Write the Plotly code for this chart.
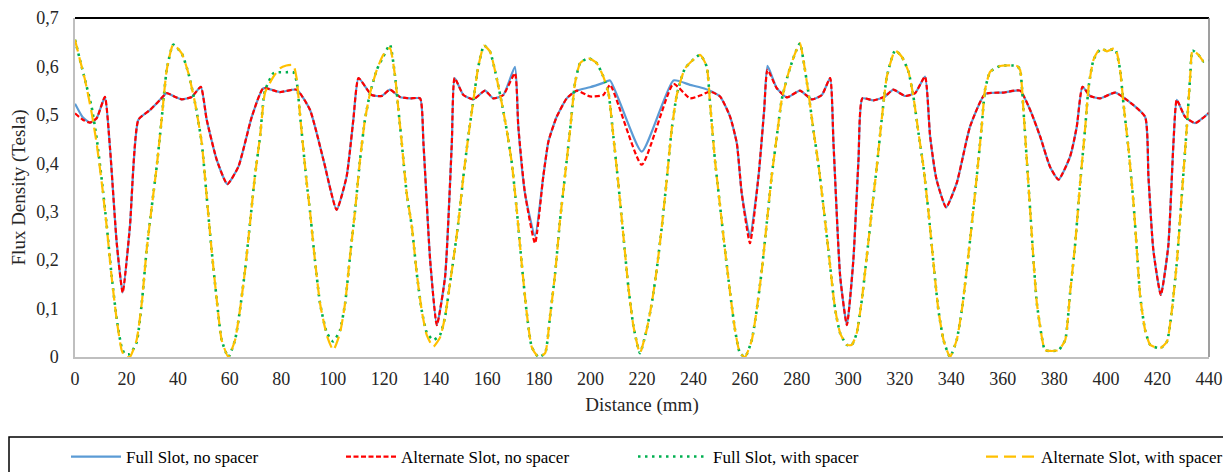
import plotly.graph_objects as go

# ---------------- data ----------------
NS_X = [0, 3, 5.8, 8.4, 11.6, 13.6, 16.2, 18.5, 21.3, 24.6,
        29.1, 33, 35.6, 38.5, 41.4, 45.3, 48.8, 51.1, 55, 59.1,
        63.4, 68.6, 73.1, 79.5, 86, 91.2, 96.4, 101.5, 105.4, 108,
        110, 115.1, 119, 122.2, 126.1, 130, 133.9, 135.2, 137.8, 140.4,
        143.6, 146.2, 147.3, 150.7, 154.6, 159.1, 162.3, 166.2, 170.7, 172,
        174.6, 178.5, 181.7, 183.7, 186.9, 190.8, 194.7, 199.8, 205, 207.6,
        219.9, 232.2, 238.6, 243.1, 246.4, 250.3, 254.2, 256.8, 258.7, 261.9,
        265.2, 267.4, 268.7, 272.3, 276.2, 281.3, 285.9, 289.8, 293, 294.3,
        296.9, 299.5, 302, 304, 305.5, 309.8, 314.3, 317.5, 322.1, 326,
        329.8, 331.8, 334.3, 338, 342.1, 347.3, 353.1, 360.2, 366.7, 370.6,
        374.5, 378.3, 381.6, 386.1, 388.7, 390.9, 393.9, 397.7, 403.6, 408.1,
        415.2, 416.5, 418.4, 421.3, 424.2, 426.2, 427.5, 430.7, 434.6, 440]

FULL_NO_SPACER = [0.523, 0.495, 0.484, 0.493, 0.537, 0.43, 0.235, 0.133, 0.269, 0.490,
                  0.510, 0.531, 0.545, 0.538, 0.532, 0.537, 0.558, 0.49, 0.407, 0.357,
                  0.393, 0.496, 0.555, 0.547, 0.552, 0.51, 0.407, 0.304, 0.373, 0.49,
                  0.576, 0.541, 0.539, 0.552, 0.537, 0.534, 0.534, 0.441, 0.2, 0.066,
                  0.166, 0.441, 0.576, 0.541, 0.532, 0.55, 0.534, 0.541, 0.599, 0.476,
                  0.338, 0.25, 0.373, 0.445, 0.496, 0.534, 0.55, 0.557, 0.566, 0.571,
                  0.424, 0.571, 0.562, 0.556, 0.55, 0.538, 0.496, 0.441, 0.338, 0.249,
                  0.373, 0.51, 0.601, 0.555, 0.536, 0.55, 0.532, 0.541, 0.576, 0.441,
                  0.166, 0.066, 0.2, 0.407, 0.534, 0.53, 0.538, 0.552, 0.539, 0.545,
                  0.579, 0.455, 0.366, 0.309, 0.359, 0.476, 0.543, 0.546, 0.55, 0.51,
                  0.455, 0.393, 0.366, 0.414, 0.476, 0.558, 0.539, 0.534, 0.546, 0.531,
                  0.496, 0.373, 0.221, 0.128, 0.229, 0.441, 0.531, 0.496, 0.483, 0.504]

ALT_NO_SPACER = [0.503, 0.49, 0.484, 0.493, 0.537, 0.43, 0.235, 0.133, 0.269, 0.490,
                 0.510, 0.531, 0.545, 0.538, 0.532, 0.537, 0.558, 0.49, 0.407, 0.357,
                 0.393, 0.496, 0.555, 0.547, 0.552, 0.51, 0.407, 0.304, 0.373, 0.49,
                 0.576, 0.541, 0.539, 0.552, 0.537, 0.534, 0.534, 0.441, 0.2, 0.066,
                 0.166, 0.441, 0.576, 0.541, 0.532, 0.55, 0.534, 0.541, 0.586, 0.476,
                 0.338, 0.235, 0.373, 0.445, 0.496, 0.534, 0.55, 0.538, 0.541, 0.562,
                 0.397, 0.564, 0.534, 0.541, 0.548, 0.538, 0.496, 0.441, 0.338, 0.235,
                 0.373, 0.51, 0.593, 0.555, 0.536, 0.55, 0.532, 0.541, 0.576, 0.441,
                 0.166, 0.066, 0.2, 0.407, 0.534, 0.53, 0.538, 0.552, 0.539, 0.545,
                 0.579, 0.455, 0.366, 0.309, 0.359, 0.476, 0.543, 0.546, 0.55, 0.51,
                 0.455, 0.393, 0.366, 0.414, 0.476, 0.558, 0.539, 0.534, 0.546, 0.531,
                 0.496, 0.373, 0.221, 0.128, 0.229, 0.441, 0.531, 0.496, 0.483, 0.504]

SP_X = [0, 1.9, 3.9, 6.5, 8.4, 10.4, 12.3, 14.2, 16.2, 18.1,
        19.4, 21.3, 23.9, 25.9, 27.8, 29.8, 31.7, 33.6, 35.6, 38.1,
        41.4, 44, 46.6, 49.2, 51.1, 53, 55, 56.9, 59.5, 62.1,
        64, 66, 67.9, 69.8, 71.8, 73.7, 77, 79.5, 82, 84.7,
        86, 87.3, 89.9, 91.2, 93.1, 95.1, 97.7, 100.2, 102.8, 104.8,
        106.7, 108.7, 110.6, 112.5, 114.5, 117.1, 119.6, 122.2, 124.2, 125.5,
        126.8, 128.7, 130.7, 132.6, 134.5, 136.5, 139, 141.6, 143.6, 145.5,
        146.8, 148.7, 150.7, 152.6, 154.6, 156.5, 158.7, 161, 163.6, 165.6,
        167.5, 169.5, 171.4, 173.3, 175.3, 177.2, 179.8, 182.4, 184.3, 186.3,
        188.2, 190.1, 192.1, 194, 196, 199.2, 202.4, 205, 207, 208.9,
        210.8, 212.8, 214.7, 216.7, 219.2, 221.8, 223.8, 225.7, 227.7, 229.6,
        231.5, 233.5, 236.7, 242.5, 245.1, 246.4, 248.3, 250.3, 252.2, 254.2,
        256.1, 258, 260, 262.6, 264.5, 266.5, 268.4, 270.3, 272.3, 274.2,
        276.8, 279.4, 281.3, 282.6, 284.6, 286.5, 288.4, 290.4, 292.3, 294.9,
        296.9, 299.5, 301.4, 303.3, 305.3, 307.2, 309.2, 311.1, 313, 315,
        318.2, 320.8, 323.4, 325.3, 327.3, 329.2, 331.2, 333.1, 335, 337,
        339.5, 342.1, 344.1, 346, 348, 349.9, 351.8, 353.1, 355.1, 359,
        365.5, 366.7, 368, 369.3, 370.6, 371.9, 373.2, 375.1, 376.4, 381.6,
        384.2, 386.1, 388.1, 390, 392, 393.3, 395.2, 397.8, 400.4, 403.6,
        405.5, 406.8, 408.8, 410.7, 412, 413.3, 415.2, 417.2, 421.1, 423.7,
        425.6, 427.6, 429.5, 431.4, 432.7, 433.6, 435.9, 437.9, 440]

FULL_WITH_SPACER = [0.655, 0.614, 0.572, 0.515, 0.452, 0.365, 0.272, 0.168, 0.078, 0.02,
                    0.006, 0.006, 0.03, 0.111, 0.221, 0.311, 0.393, 0.490, 0.593, 0.645,
                    0.627, 0.586, 0.524, 0.441, 0.331, 0.221, 0.118, 0.035, 0.0, 0.035,
                    0.097, 0.18, 0.276, 0.373, 0.455, 0.55, 0.586, 0.588, 0.588, 0.588,
                    0.569, 0.5, 0.36, 0.3, 0.2, 0.11, 0.05, 0.032, 0.055, 0.111,
                    0.207, 0.304, 0.407, 0.49, 0.545, 0.593, 0.62, 0.645, 0.579, 0.51,
                    0.441, 0.338, 0.269, 0.173, 0.097, 0.05, 0.035, 0.045, 0.083, 0.152,
                    0.2, 0.276, 0.373, 0.455, 0.531, 0.6, 0.643, 0.631, 0.576, 0.524,
                    0.469, 0.4, 0.304, 0.194, 0.09, 0.021, 0.0, 0.008, 0.083, 0.173,
                    0.283, 0.373, 0.469, 0.565, 0.607, 0.617, 0.607, 0.579, 0.545, 0.455,
                    0.359, 0.249, 0.145, 0.063, 0.008, 0.056, 0.111, 0.18, 0.269, 0.366,
                    0.469, 0.541, 0.596, 0.624, 0.6, 0.524, 0.407, 0.311, 0.221, 0.132,
                    0.056, 0.008, 0.0, 0.035, 0.097, 0.18, 0.276, 0.373, 0.455, 0.531,
                    0.586, 0.627, 0.648, 0.614, 0.545, 0.469, 0.4, 0.311, 0.221, 0.1,
                    0.049, 0.025, 0.025, 0.049, 0.118, 0.207, 0.304, 0.393, 0.49, 0.579,
                    0.633, 0.62, 0.589, 0.538, 0.462, 0.393, 0.297, 0.194, 0.097, 0.035,
                    0.0, 0.035, 0.097, 0.18, 0.276, 0.373, 0.476, 0.552, 0.589, 0.601,
                    0.601, 0.593, 0.51, 0.407, 0.304, 0.2, 0.111, 0.042, 0.014, 0.014,
                    0.035, 0.132, 0.235, 0.359, 0.476, 0.558, 0.614, 0.635, 0.633, 0.635,
                    0.593, 0.524, 0.428, 0.318, 0.221, 0.125, 0.056, 0.025, 0.018, 0.032,
                    0.097, 0.2, 0.338, 0.476, 0.579, 0.633, 0.624, 0.61, 0.612]

ALT_WITH_SPACER = [0.655, 0.614, 0.572, 0.503, 0.441, 0.359, 0.269, 0.166, 0.076, 0.014,
                   0.0, 0.0, 0.035, 0.111, 0.221, 0.311, 0.393, 0.490, 0.593, 0.645,
                   0.627, 0.586, 0.524, 0.441, 0.331, 0.221, 0.118, 0.035, 0.0, 0.035,
                   0.097, 0.18, 0.276, 0.373, 0.455, 0.545, 0.579, 0.596, 0.602, 0.603,
                   0.575, 0.5, 0.36, 0.3, 0.2, 0.11, 0.045, 0.014, 0.049, 0.111,
                   0.207, 0.304, 0.407, 0.49, 0.545, 0.593, 0.624, 0.638, 0.579, 0.51,
                   0.441, 0.338, 0.269, 0.173, 0.097, 0.045, 0.021, 0.04, 0.083, 0.152,
                   0.2, 0.276, 0.373, 0.455, 0.531, 0.6, 0.643, 0.631, 0.576, 0.524,
                   0.469, 0.4, 0.304, 0.194, 0.09, 0.021, 0.0, 0.008, 0.083, 0.173,
                   0.283, 0.373, 0.469, 0.565, 0.607, 0.617, 0.607, 0.579, 0.545, 0.455,
                   0.359, 0.249, 0.145, 0.063, 0.008, 0.056, 0.111, 0.18, 0.269, 0.366,
                   0.469, 0.541, 0.596, 0.624, 0.6, 0.524, 0.407, 0.311, 0.221, 0.132,
                   0.056, 0.008, 0.0, 0.035, 0.097, 0.18, 0.276, 0.373, 0.455, 0.531,
                   0.586, 0.627, 0.648, 0.614, 0.545, 0.469, 0.4, 0.311, 0.221, 0.1,
                   0.049, 0.025, 0.025, 0.049, 0.118, 0.207, 0.304, 0.393, 0.49, 0.579,
                   0.633, 0.62, 0.589, 0.538, 0.462, 0.393, 0.297, 0.194, 0.097, 0.035,
                   0.0, 0.035, 0.097, 0.18, 0.276, 0.373, 0.476, 0.552, 0.589, 0.601,
                   0.601, 0.593, 0.51, 0.407, 0.304, 0.2, 0.111, 0.042, 0.014, 0.014,
                   0.035, 0.132, 0.235, 0.359, 0.476, 0.558, 0.614, 0.638, 0.631, 0.638,
                   0.593, 0.524, 0.428, 0.318, 0.221, 0.125, 0.056, 0.025, 0.018, 0.032,
                   0.097, 0.2, 0.338, 0.476, 0.579, 0.633, 0.624, 0.61, 0.612]

SERIES_NAMES = ["Full Slot, no spacer", "Alternate Slot, no spacer",
                "Full Slot, with spacer", "Alternate Slot, with spacer"]
X_TICKS = list(range(0, 441, 20))
Y_TICKS = [0, 0.1, 0.2, 0.3, 0.4, 0.5, 0.6, 0.7]
Y_TICK_LABELS = ["0", "0,1", "0,2", "0,3", "0,4", "0,5", "0,6", "0,7"]

assert len(NS_X) == len(FULL_NO_SPACER) == len(ALT_NO_SPACER)
assert len(SP_X) == len(FULL_WITH_SPACER) == len(ALT_WITH_SPACER)

# ---------------- styling ----------------
FONT = "Liberation Serif"
# the page body adds an 8px offset; size the figure so that it fills the window
OFF = 8
WIN_W, WIN_H = 1231, 472
W, H = WIN_W - OFF, WIN_H - OFF
# plot area in window pixels
PL, PR, PT, PB = 75, 1209, 18, 357
ML, MT = PL - OFF, PT - OFF
MR = W - (PR - OFF)
MB = H - (PB - OFF)
PW, PH = PR - PL, PB - PT


def px_x(p):
    return (p - PL) / PW


def px_y(p):
    return (PB - p) / PH


styles = [
    dict(color="#5B9BD5", width=2.2, dash="solid"),
    dict(color="#FF0000", width=2.2, dash="5px,2.5px"),
    dict(color="#00B050", width=2.6, dash="2.5px,4.5px"),
    dict(color="#FFC000", width=2.2, dash="12px,6px"),
]
xs = [NS_X, NS_X, SP_X, SP_X]
ys = [FULL_NO_SPACER, ALT_NO_SPACER, FULL_WITH_SPACER, ALT_WITH_SPACER]
legend_ids = ["legend", "legend2", "legend3", "legend4"]

fig = go.Figure()
for name, x, y, st, lg in zip(SERIES_NAMES, xs, ys, styles, legend_ids):
    fig.add_trace(go.Scatter(
        x=x, y=y, name=name, mode="lines",
        line=dict(color=st["color"], width=st["width"], dash=st["dash"],
                  shape="spline", smoothing=0.5),
        legend=lg, cliponaxis=False,
    ))

legend_x_px = [66, 341, 633, 981]
legend_item_w = [50, 50, 70, 50]
leg_common = dict(orientation="h", yanchor="middle", xanchor="left",
                  y=px_y(457), bgcolor="rgba(0,0,0,0)", borderwidth=0,
                  font=dict(family=FONT, size=17, color="#000000"))
layout_legends = {}
for lg, xp, iw in zip(legend_ids, legend_x_px, legend_item_w):
    layout_legends[lg] = dict(leg_common, x=px_x(xp), itemwidth=iw)

fig.update_layout(
    width=W, height=H,
    margin=dict(l=ML, r=MR, t=MT, b=MB, autoexpand=False),
    paper_bgcolor="white", plot_bgcolor="white",
    font=dict(family=FONT, size=17, color="#262626"),
    showlegend=True,
    xaxis=dict(range=[0, 440], tickvals=X_TICKS, ticktext=[str(v) for v in X_TICKS],
               showgrid=False, zeroline=False, showline=True, linecolor="#BFBFBF",
               linewidth=1.5, ticks="", ticklabelstandoff=5,
               tickfont=dict(family=FONT, size=18, color="#262626"),
               title=dict(text="Distance (mm)", standoff=9,
                          font=dict(family=FONT, size=19, color="#262626"))),
    yaxis=dict(range=[0, 0.7], tickvals=Y_TICKS, ticktext=Y_TICK_LABELS,
               showgrid=False, zeroline=False, showline=True, linecolor="#BFBFBF",
               linewidth=1.5, ticks="", ticklabelstandoff=11,
               tickfont=dict(family=FONT, size=18, color="#262626"),
               title=dict(text="Flux Density (Tesla)", standoff=6,
                          font=dict(family=FONT, size=19, color="#262626"))),
    shapes=[
        dict(type="line", xref="paper", yref="paper", x0=0, x1=1, y0=1, y1=1,
             line=dict(color="#000000", width=2)),
        dict(type="line", xref="paper", yref="paper", x0=1, x1=1, y0=0, y1=1,
             line=dict(color="#7F7F7F", width=1.5)),
        dict(type="rect", xref="paper", yref="paper",
             x0=px_x(9), x1=px_x(1226), y0=px_y(485), y1=px_y(437),
             line=dict(color="#000000", width=1.5), fillcolor="rgba(0,0,0,0)"),
    ],
    **layout_legends,
)

fig.write_html("out.html")
